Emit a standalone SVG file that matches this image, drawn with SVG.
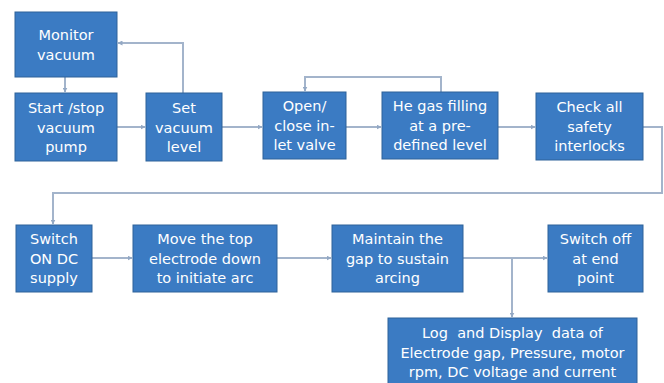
<svg xmlns="http://www.w3.org/2000/svg" width="664" height="383" viewBox="0 0 664 383">
  <defs>
    <style>
      .box { fill: #3b7bc3; stroke: #2e6399; stroke-width: 1; }
      .lbl { fill: #ffffff; font-family: "DejaVu Sans", "Liberation Sans", sans-serif; font-size: 14.5px; text-anchor: middle; dominant-baseline: central; }
      .wire { fill: none; stroke: #a3b4cb; stroke-width: 2; }
    </style>
    <marker id="arr" viewBox="0 0 10 10" refX="9" refY="5" markerWidth="5" markerHeight="5" orient="auto" markerUnits="userSpaceOnUse">
      <path d="M0,0 L10,5 L0,10 z" fill="#93a8c4"/>
    </marker>
  </defs>
  <rect width="664" height="383" fill="#ffffff"/>

  <g id="connectors">
    <path class="wire" d="M65,77 V92" marker-end="url(#arr)"/>
    <path class="wire" d="M117,127 H145" marker-end="url(#arr)"/>
    <path class="wire" d="M183,93 V43 H118" marker-end="url(#arr)"/>
    <path class="wire" d="M222,127 H262" marker-end="url(#arr)"/>
    <path class="wire" d="M441,92 V77 H305 V91" marker-end="url(#arr)"/>
    <path class="wire" d="M346,127 H381" marker-end="url(#arr)"/>
    <path class="wire" d="M498,127 H535" marker-end="url(#arr)"/>
    <path class="wire" d="M643,127 H662 V193 H53 V224" marker-end="url(#arr)"/>
    <path class="wire" d="M92,258 H132" marker-end="url(#arr)"/>
    <path class="wire" d="M277,258 H331" marker-end="url(#arr)"/>
    <path class="wire" d="M463,258 H547" marker-end="url(#arr)"/>
    <path class="wire" d="M512,258 V317" marker-end="url(#arr)"/>
  </g>

  <g id="monitor-vacuum">
    <rect class="box" x="15" y="12" width="102" height="65"/>
    <text class="lbl" x="66" y="35">Monitor</text>
    <text class="lbl" x="66" y="55">vacuum</text>
  </g>
  <g id="start-stop-pump">
    <rect class="box" x="15" y="93" width="102" height="68"/>
    <text class="lbl" x="66" y="108">Start /stop</text>
    <text class="lbl" x="66" y="127.5">vacuum</text>
    <text class="lbl" x="66" y="147">pump</text>
  </g>
  <g id="set-vacuum-level">
    <rect class="box" x="146" y="93" width="76" height="68"/>
    <text class="lbl" x="184" y="108">Set</text>
    <text class="lbl" x="184" y="127.5">vacuum</text>
    <text class="lbl" x="184" y="147">level</text>
  </g>
  <g id="inlet-valve">
    <rect class="box" x="263" y="92" width="83" height="67"/>
    <text class="lbl" x="304.5" y="106">Open/</text>
    <text class="lbl" x="304.5" y="125.5">close in-</text>
    <text class="lbl" x="304.5" y="145">let valve</text>
  </g>
  <g id="he-gas-filling">
    <rect class="box" x="382" y="92" width="116" height="67"/>
    <text class="lbl" x="440" y="106">He gas filling</text>
    <text class="lbl" x="440" y="125.5">at a pre-</text>
    <text class="lbl" x="440" y="145">defined level</text>
  </g>
  <g id="safety-interlocks">
    <rect class="box" x="536" y="93" width="107" height="67"/>
    <text class="lbl" x="589.5" y="107">Check all</text>
    <text class="lbl" x="589.5" y="126.5">safety</text>
    <text class="lbl" x="589.5" y="146">interlocks</text>
  </g>
  <g id="dc-supply-on">
    <rect class="box" x="16" y="225" width="76" height="67"/>
    <text class="lbl" x="54" y="239">Switch</text>
    <text class="lbl" x="54" y="258.5">ON DC</text>
    <text class="lbl" x="54" y="278">supply</text>
  </g>
  <g id="move-electrode">
    <rect class="box" x="133" y="225" width="144" height="67"/>
    <text class="lbl" x="205" y="239">Move the top</text>
    <text class="lbl" x="205" y="258.5">electrode down</text>
    <text class="lbl" x="205" y="278">to initiate arc</text>
  </g>
  <g id="maintain-gap">
    <rect class="box" x="332" y="225" width="131" height="67"/>
    <text class="lbl" x="397.5" y="239">Maintain the</text>
    <text class="lbl" x="397.5" y="258.5">gap to sustain</text>
    <text class="lbl" x="397.5" y="278">arcing</text>
  </g>
  <g id="switch-off">
    <rect class="box" x="548" y="225" width="95" height="67"/>
    <text class="lbl" x="595.5" y="239">Switch off</text>
    <text class="lbl" x="595.5" y="258.5">at end</text>
    <text class="lbl" x="595.5" y="278">point</text>
  </g>
  <g id="log-display">
    <rect class="box" x="388" y="318" width="249" height="70"/>
    <text class="lbl" x="512.5" y="333" xml:space="preserve">Log  and Display  data of</text>
    <text class="lbl" x="512.5" y="352.5">Electrode gap, Pressure, motor</text>
    <text class="lbl" x="512.5" y="372">rpm, DC voltage and current</text>
  </g>
</svg>
